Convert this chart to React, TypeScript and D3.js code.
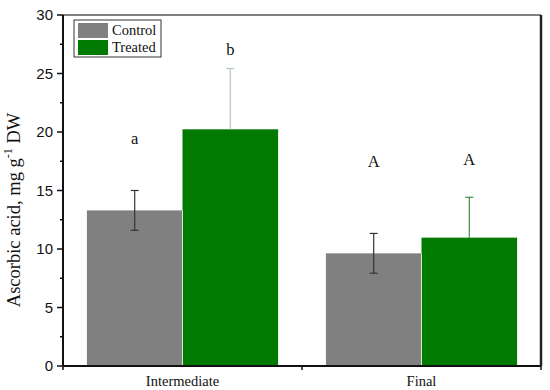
import React from "react";
import { scaleBand, scaleLinear, range } from "d3";

const width = 550;
const height = 390;
const margin = { top: 15, right: 9, bottom: 24, left: 63 };
const innerW = width - margin.left - margin.right;
const innerH = height - margin.top - margin.bottom;

const stages = ["Intermediate", "Final"];
const groups = ["Control", "Treated"];
const controlMeans = [13.3, 9.63];
const controlErrors = [1.7, 1.7];
const treatedMeans = [20.23, 10.97];
const treatedErrors = [5.2, 3.45];
const controlLetters = ["a", "A"];
const treatedLetters = ["b", "A"];
const controlLetterY = [19.0, 17.0];
const treatedLetterY = [26.6, 17.2];
const yTicks = [0, 5, 10, 15, 20, 25, 30];

const colors = { Control: "#808080", Treated: "#007a00" };
const errColors = ["#b3c9b3", "#3f8f3f"];

const x0 = scaleBand().domain(stages).range([0, innerW]).padding(0);
const x1 = scaleBand()
  .domain(groups)
  .range([x0.bandwidth() * 0.1, x0.bandwidth() * 0.9])
  .padding(0);
const y = scaleLinear().domain([0, 30]).range([innerH, 0]);

const serif = "'Liberation Serif', 'Times New Roman', serif";
const sans = "'Liberation Sans', Arial, sans-serif";

const App = () => {
  const bars = stages.flatMap((s, i) => [
    { stage: s, group: "Control", value: controlMeans[i], err: controlErrors[i], letter: controlLetters[i], ly: controlLetterY[i], ec: "#333", i },
    { stage: s, group: "Treated", value: treatedMeans[i], err: treatedErrors[i], letter: treatedLetters[i], ly: treatedLetterY[i], ec: errColors[i], i },
  ]);
  return (
    <svg width={width} height={height} style={{ position: "absolute", left: 0, top: 0 }}>
      <rect width={width} height={height} fill="#fff" />
      <g transform={`translate(${margin.left},${margin.top})`}>
        {bars.map((d) => {
          const bx = (x0(d.stage) ?? 0) + (x1(d.group) ?? 0);
          const cx = bx + x1.bandwidth() / 2;
          return (
            <g key={d.stage + d.group}>
              <rect
                x={bx}
                y={y(d.value)}
                width={x1.bandwidth()}
                height={innerH - y(d.value)}
                fill={colors[d.group as keyof typeof colors]}
              />
              <line x1={cx} x2={cx} y1={y(d.value + d.err)} y2={y(d.group === "Control" ? d.value - d.err : d.value)} stroke={d.ec} strokeWidth={1.2} />
              <line x1={cx - 4} x2={cx + 4} y1={y(d.value + d.err)} y2={y(d.value + d.err)} stroke={d.ec} strokeWidth={1.2} />
              {d.group === "Control" && (
                <line x1={cx - 4} x2={cx + 4} y1={y(d.value - d.err)} y2={y(d.value - d.err)} stroke={d.ec} strokeWidth={1.2} />
              )}
              <text x={cx} y={y(d.ly)} textAnchor="middle" fontFamily={serif} fontSize={16.5} fill="#111">
                {d.letter}
              </text>
            </g>
          );
        })}
        {stages.map((s) => (
          <line
            key={s}
            x1={(x0(s) ?? 0) + x0.bandwidth() / 2}
            x2={(x0(s) ?? 0) + x0.bandwidth() / 2}
            y1={y(0)}
            y2={y(Math.min(...bars.filter((b) => b.stage === s).map((b) => b.value)))}
            stroke="#d8e8d8"
            strokeWidth={1}
          />
        ))}
        {/* frame */}
        <line x1={0} x2={innerW} y1={0} y2={0} stroke="#555" strokeWidth={1.5} />
        <line x1={innerW} x2={innerW} y1={0} y2={innerH} stroke="#222" strokeWidth={2.5} />
        <line x1={0} x2={innerW} y1={innerH} y2={innerH} stroke="#111" strokeWidth={2} />
        <line x1={0} x2={0} y1={0} y2={innerH} stroke="#111" strokeWidth={2} />
        {/* y axis */}
        {range(0, 30.01, 2.5).map((t) => (
          <line key={t} x1={0} x2={t % 5 === 0 ? -6 : -3} y1={y(t)} y2={y(t)} stroke="#111" strokeWidth={1.5} />
        ))}
        {yTicks.map((t) => (
          <text key={t} x={-10} y={y(t)} dy="0.35em" textAnchor="end" fontFamily={sans} fontSize={15} fill="#111">
            {t}
          </text>
        ))}
        {/* x axis */}
        {[0, x0.bandwidth(), innerW].map((t) => (
          <line key={t} x1={t} x2={t} y1={innerH} y2={innerH + 4} stroke="#111" strokeWidth={1.5} />
        ))}
        {stages.map((s) => (
          <text key={s} x={(x0(s) ?? 0) + x0.bandwidth() / 2} y={innerH + 20} textAnchor="middle" fontFamily={serif} fontSize={14.5} fill="#111">
            {s}
          </text>
        ))}
        {/* legend */}
        <g transform="translate(11,5)">
          <rect x={0} y={0} width={87} height={37} fill="#fff" stroke="#333" strokeWidth={1} />
          {groups.map((g, i) => (
            <g key={g} transform={`translate(4,${3 + i * 17})`}>
              <rect width={30} height={15} fill={colors[g as keyof typeof colors]} />
              <text x={34} y={12} fontFamily={serif} fontSize={14.5} fill="#111">
                {g}
              </text>
            </g>
          ))}
        </g>
      </g>
      <text
        transform={`translate(20,${210}) rotate(-90)`}
        textAnchor="middle"
        fontFamily={serif}
        fontSize={18.5}
        fill="#111"
      >
        Ascorbic acid, mg g<tspan dy={-8} fontSize={12}>-1</tspan>
        <tspan dy={8}> DW</tspan>
      </text>
    </svg>
  );
};

export default App;
